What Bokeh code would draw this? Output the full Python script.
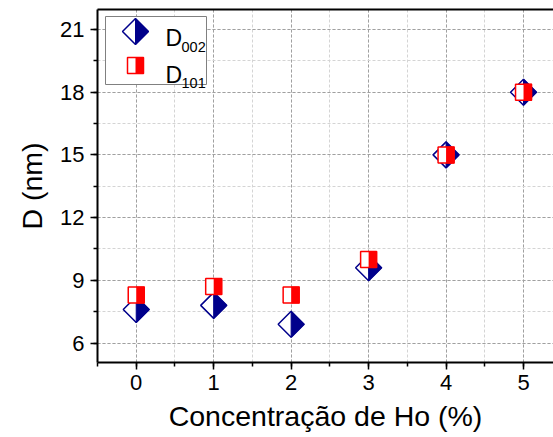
from bokeh.plotting import figure
from bokeh.models import Range1d, SingleIntervalTicker, LinearAxis, FixedTicker
from bokeh.core.properties import value
from bokeh.embed import file_html
from bokeh.resources import INLINE

# ---- data ----
conc = [0, 1, 2, 3, 4, 5]
d002 = [7.6, 7.8, 6.9, 9.6, 15.0, 18.0]
d101 = [8.3, 8.7, 8.3, 10.0, 15.0, 18.0]
x_title = "Concentração de Ho (%)"
y_title = "D (nm)"
leg_main = ["D", "D"]
leg_sub = ["002", "101"]

# ---- layout ----
W, H = 553, 437
ML, MR, MT, MB = 97, 0, 9, 75
FW, FH = W - ML - MR, H - MT - MB
X0 = -0.5
SX = 77.46           # px per x unit
SY = 20.9            # px per y unit
X1 = X0 + FW / SX
Y0 = 6 - (MT + FH - 342.5) / SY
Y1 = Y0 + FH / SY

FONT = "Liberation Sans"
NAVY = "#00008B"
RED = "#FF0000"


def px2x(px):
    return X0 + (px - ML) / SX


def py2y(py):
    return Y0 + (MT + FH - py) / SY


p = figure(width=W, height=H, x_range=Range1d(X0, X1), y_range=Range1d(Y0, Y1),
           output_backend="svg", toolbar_location=None,
           min_border_left=ML, min_border_right=MR, min_border_top=MT, min_border_bottom=MB)
p.outline_line_color = None
p.background_fill_color = "white"
p.border_fill_color = "white"

p.xaxis.ticker = SingleIntervalTicker(interval=1, num_minor_ticks=2)
p.yaxis.ticker = SingleIntervalTicker(interval=3, num_minor_ticks=2)
for ax in (p.xaxis[0], p.yaxis[0]):
    ax.axis_line_width = 2
    ax.axis_line_color = "black"
    ax.major_tick_in = 0
    ax.major_tick_out = 7
    ax.minor_tick_in = 0
    ax.minor_tick_out = 4
    ax.major_tick_line_width = 1.5
    ax.minor_tick_line_width = 1.5
    ax.major_tick_line_color = "black"
    ax.minor_tick_line_color = "black"
    ax.major_label_text_font = FONT
    ax.major_label_text_font_size = "22px"
    ax.major_label_text_color = "black"
    ax.axis_label_text_font = FONT
    ax.axis_label_text_font_size = "28.5px"
    ax.axis_label_text_font_style = "normal"
    ax.axis_label_text_color = "black"
p.xaxis.axis_label = x_title
p.yaxis.axis_label = y_title
p.xaxis.major_label_standoff = 5
p.yaxis.major_label_standoff = 6
p.xaxis.axis_label_standoff = 7
p.yaxis.axis_label_standoff = 9

top = LinearAxis(ticker=FixedTicker(ticks=[]), axis_line_width=2, axis_line_color="black",
                 major_tick_out=0, major_tick_in=0, minor_tick_out=0, minor_tick_in=0,
                 major_label_standoff=0, major_label_text_font_size="0px")
p.add_layout(top, "above")

for g in (p.xgrid[0], p.ygrid[0]):
    g.grid_line_color = "#a0a0a0"
    g.grid_line_dash = "3 2"
    g.grid_line_width = 1
    g.minor_grid_line_color = "#d4d4d4"
    g.minor_grid_line_dash = "3 2"
    g.minor_grid_line_width = 1

DH = 13.0   # diamond half-diagonal (px)
SH = 8.5    # square half-side (px)


def diamonds(xs, ys):
    p.scatter(xs, ys, marker="square", angle=0.785398, size=2 * DH / 1.4142,
              fill_color="white", line_color=NAVY, line_width=1.5)
    px = [[x, x + DH / SX, x] for x in xs]
    py = [[y + DH / SY, y, y - DH / SY] for y in ys]
    p.patches(px, py, fill_color=NAVY, line_color=NAVY, line_width=1.0)


def squares(xs, ys):
    p.scatter(xs, ys, marker="square", size=2 * SH - 1, fill_color="white",
              line_color=RED, line_width=1.5)
    p.quad(left=xs, right=[x + SH / SX for x in xs],
           bottom=[y - SH / SY for y in ys], top=[y + SH / SY for y in ys],
           fill_color=RED, line_color=None)


diamonds(conc, d002)
squares(conc, d101)

# ---- legend ----
p.quad(left=[px2x(105)], right=[px2x(206)], top=[py2y(16)], bottom=[py2y(84)],
       fill_color="white", line_color="#808080", line_width=1)
diamonds([px2x(135)], [py2y(31)])
squares([px2x(135)], [py2y(65)])
p.text(x=[px2x(165), px2x(165)], y=[py2y(37.5), py2y(74)], text=leg_main,
       text_font=value(FONT), text_font_size="23px", text_baseline="alphabetic",
       text_align="left", text_color="black")
p.text(x=[px2x(181), px2x(181)], y=[py2y(46.5), py2y(82.5)], text=leg_sub,
       text_font=value(FONT), text_font_size="14.5px", text_baseline="alphabetic",
       text_align="left", text_color="black")

open("out.html", "w").write(file_html(p, INLINE))
